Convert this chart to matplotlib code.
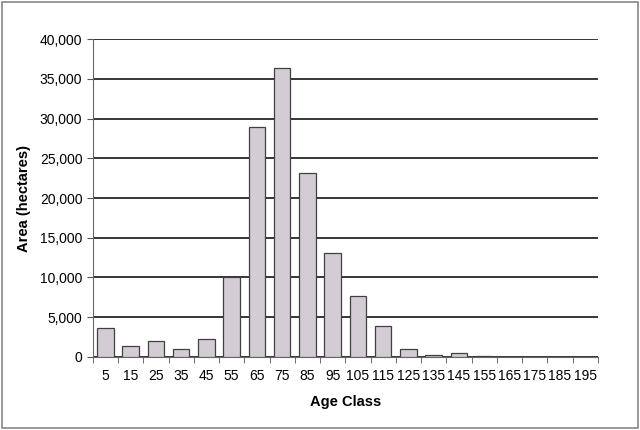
import numpy as np
import matplotlib
matplotlib.use("Agg")
from matplotlib import pyplot as plt
from matplotlib.ticker import FuncFormatter

plt.rcParams['font.family'] = ['Liberation Sans', 'DejaVu Sans']

age_classes = ["5", "15", "25", "35", "45", "55", "65", "75", "85", "95",
               "105", "115", "125", "135", "145", "155", "165", "175", "185", "195"]
area = [3700, 1400, 2000, 1000, 2250, 10050, 28900, 36350, 23150, 13050,
        7700, 3900, 1000, 250, 450, 150, 0, 0, 0, 0]

fig = plt.figure(figsize=(6.4, 4.3), dpi=100)
ax = fig.add_axes([0.145, 0.170, 0.789, 0.739])

x = np.arange(len(age_classes))
ax.bar(x, area, width=0.66, color="#d3ccd4", edgecolor="#404040", linewidth=0.9, zorder=3)

ax.set_ylim(0, 40000)
ax.set_yticks(np.arange(0, 40001, 5000))
ax.yaxis.set_major_formatter(FuncFormatter(lambda v, p: f"{int(v):,}"))
ax.grid(axis="y", color="black", linewidth=1.1, zorder=0)

ax.set_xlim(-0.5, len(age_classes) - 0.5)
ax.set_xticks(x)
ax.set_xticklabels(age_classes)
ax.set_xticks(np.arange(-0.5, len(age_classes), 1), minor=True)
ax.tick_params(axis="x", which="major", length=0, pad=9, labelsize=10)
ax.tick_params(axis="x", which="minor", length=4, color="#555555")
ax.tick_params(axis="y", length=4, color="#555555", labelsize=10)

for s in ["top", "right"]:
    ax.spines[s].set_visible(False)
for s in ["left", "bottom"]:
    ax.spines[s].set_color("#666666")

ax.set_xlabel("Age Class", fontsize=10.5, fontweight="bold", labelpad=8)
ax.set_ylabel("Area (hectares)", fontsize=10.5, fontweight="bold", labelpad=6)

fig.patches.append(plt.Rectangle((0.003, 0.004), 0.994, 0.992, transform=fig.transFigure,
                                 fill=False, edgecolor="#888888", linewidth=1.2))

fig.savefig("out.png", dpi=100)
